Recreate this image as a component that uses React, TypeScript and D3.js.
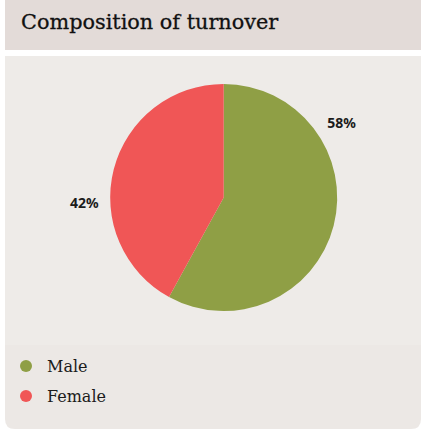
import React from "react";
import * as d3 from "d3";

const categories = ["Male", "Female"];
const values = [58, 42];
const colors = ["#8f9f45", "#f05656"];
const labelTexts = ["58%", "42%"];
// relative position of label within slice (angular fraction)
const labelFrac = [0.276, 0.39];

const W = 423;
const H = 437;

export default function App() {
  const cx = 223.7;
  const cy = 197.5;
  const r = 113.5;
  const pie = d3.pie<number>().sort(null).value((d) => d);
  const arcs = pie(values);
  const arc = d3.arc<d3.PieArcDatum<number>>().innerRadius(0).outerRadius(r);
  const labelR = 139.5;

  return (
    <svg
      width={W}
      height={H}
      style={{ position: "absolute", left: 0, top: 0, display: "block" }}
    >
      <rect x={0} y={0} width={W} height={H} fill="#ffffff" />
      {/* card */}
      <path
        d={`M5,56 H421 V419 Q421,429 411,429 H15 Q5,429 5,419 Z`}
        fill="#ece8e5"
      />
      <rect x={5} y={56} width={416} height={289} fill="#eeebe8" />
      {/* header */}
      <rect x={5} y={0} width={416} height={50} fill="#e3dbd8" />
      <text
        x={21}
        y={28.5}
        fontFamily="'DejaVu Serif', serif"
        fontSize={20.8}
        fill="#111111"
        stroke="#111111"
        strokeWidth={0.3}
      >
        Composition of turnover
      </text>
      <g transform={`translate(${cx},${cy})`}>
        {arcs.map((a, i) => (
          <path key={categories[i]} d={arc(a) || ""} fill={colors[i]} />
        ))}
        {arcs.map((a, i) => {
          const ang = a.startAngle + labelFrac[i] * (a.endAngle - a.startAngle);
          const x = Math.sin(ang) * labelR;
          const y = -Math.cos(ang) * labelR;
          return (
            <text
              key={"l" + i}
              x={x}
              y={y}
              textAnchor="middle"
              dominantBaseline="central"
              fontFamily="'Noto Sans', sans-serif"
              fontWeight="bold"
              fontSize={14}
              fill="#1b1b1b"
            >
              {labelTexts[i]}
            </text>
          );
        })}
      </g>
      {categories.map((c, i) => (
        <g key={c} transform={`translate(0,${366 + i * 30})`}>
          <circle cx={26} cy={0} r={6} fill={colors[i]} />
          <text
            x={47}
            y={6}
            fontFamily="'DejaVu Serif', serif"
            fontSize={16}
            fill="#1b1b1b"
          >
            {c}
          </text>
        </g>
      ))}
    </svg>
  );
}
